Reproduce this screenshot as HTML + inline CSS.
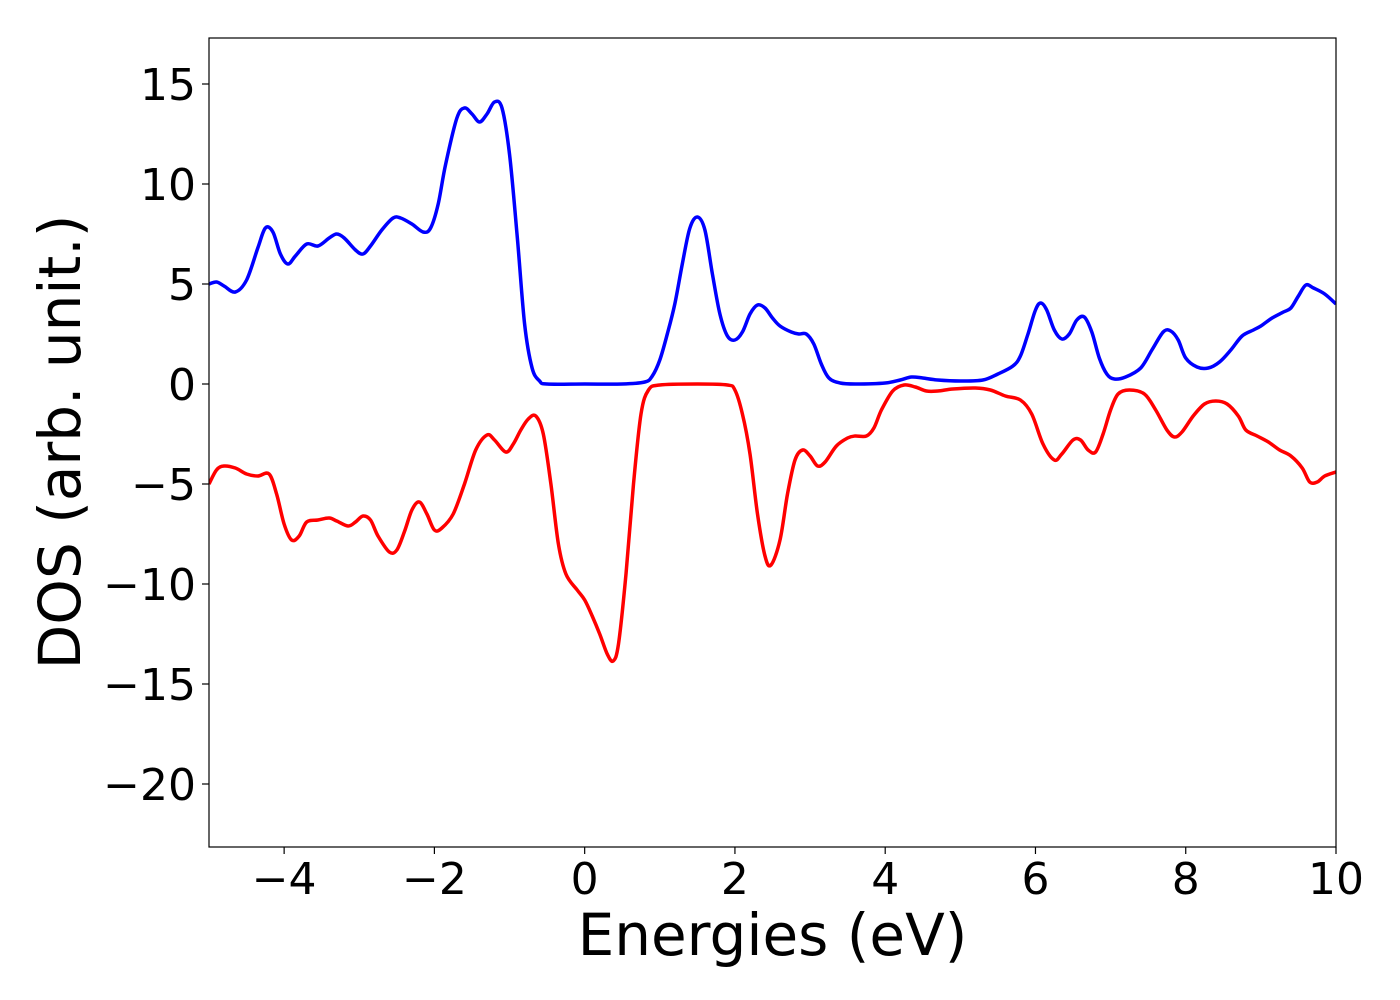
<!DOCTYPE html>
<html><head><meta charset="utf-8"><style>
html,body{margin:0;padding:0;background:#fff;}
svg{display:block;font-family:"DejaVu Sans","Liberation Sans",sans-serif;}
</style></head><body>
<svg id="chart" width="1400" height="1000"></svg>
<script>
const xTicks=[-4,-2,0,2,4,6,8,10];
const xTickLabels=["\u22124","\u22122","0","2","4","6","8","10"];
const yTicks=[15,10,5,0,-5,-10,-15,-20];
const yTickLabels=["15","10","5","0","\u22125","\u221210","\u221215","\u221220"];
const upE=[-5,-4.9,-4.8,-4.65,-4.5,-4.35,-4.25,-4.15,-4.05,-3.95,-3.85,-3.7,-3.55,-3.4,-3.3,-3.2,-3.05,-2.95,-2.85,-2.7,-2.55,-2.45,-2.3,-2.15,-2.05,-1.95,-1.85,-1.7,-1.6,-1.5,-1.4,-1.3,-1.2,-1.1,-1.0,-0.9,-0.8,-0.7,-0.6,-0.5,0,0.5,0.8,0.9,1.0,1.1,1.2,1.3,1.4,1.5,1.6,1.7,1.8,1.9,2.0,2.1,2.2,2.3,2.4,2.5,2.6,2.75,2.85,2.95,3.05,3.15,3.25,3.4,3.6,4.0,4.2,4.35,4.5,4.7,5.0,5.3,5.5,5.7,5.8,5.9,6.0,6.07,6.15,6.25,6.35,6.45,6.55,6.65,6.75,6.85,6.95,7.05,7.2,7.4,7.55,7.7,7.8,7.9,8.0,8.15,8.3,8.45,8.6,8.75,8.9,9.0,9.15,9.3,9.4,9.5,9.6,9.7,9.85,10];
const upDOS=[5.0,5.1,4.9,4.6,5.2,6.8,7.8,7.6,6.5,6.0,6.4,7.0,6.9,7.3,7.5,7.3,6.7,6.5,6.9,7.7,8.3,8.3,8.0,7.6,7.8,9.0,11.0,13.3,13.8,13.5,13.1,13.5,14.1,13.8,11.5,7.5,3.0,0.8,0.15,0.0,0.0,0.0,0.1,0.4,1.2,2.5,4.0,6.0,7.8,8.35,7.7,5.5,3.5,2.4,2.2,2.6,3.5,3.95,3.8,3.3,2.9,2.6,2.5,2.5,2.0,1.0,0.3,0.05,0.0,0.05,0.2,0.35,0.3,0.2,0.15,0.2,0.5,0.9,1.4,2.5,3.7,4.05,3.7,2.7,2.25,2.5,3.2,3.35,2.6,1.3,0.5,0.25,0.35,0.8,1.7,2.6,2.65,2.2,1.3,0.85,0.8,1.1,1.7,2.4,2.7,2.9,3.3,3.6,3.8,4.4,4.95,4.8,4.5,4.0];
const downE=[-5,-4.9,-4.8,-4.65,-4.5,-4.35,-4.2,-4.1,-4.0,-3.9,-3.8,-3.7,-3.55,-3.4,-3.3,-3.15,-3.05,-2.95,-2.85,-2.75,-2.6,-2.5,-2.4,-2.3,-2.2,-2.1,-2.0,-1.9,-1.75,-1.6,-1.45,-1.3,-1.2,-1.05,-0.95,-0.85,-0.75,-0.65,-0.55,-0.45,-0.35,-0.25,-0.1,0.0,0.1,0.2,0.3,0.38,0.45,0.55,0.65,0.75,0.85,1.0,1.5,1.9,2.0,2.1,2.2,2.3,2.4,2.48,2.6,2.7,2.8,2.9,3.0,3.1,3.2,3.35,3.5,3.6,3.75,3.85,3.95,4.1,4.25,4.4,4.55,4.7,4.9,5.2,5.4,5.6,5.8,5.95,6.1,6.25,6.35,6.5,6.6,6.7,6.8,6.9,7.0,7.1,7.25,7.45,7.6,7.75,7.85,7.95,8.1,8.25,8.4,8.55,8.7,8.8,8.95,9.1,9.25,9.4,9.55,9.65,9.75,9.85,10];
const downDOS=[-5.0,-4.3,-4.1,-4.2,-4.5,-4.6,-4.5,-5.5,-7.0,-7.8,-7.6,-6.9,-6.8,-6.7,-6.85,-7.1,-6.9,-6.6,-6.8,-7.6,-8.4,-8.3,-7.4,-6.3,-5.9,-6.5,-7.3,-7.2,-6.5,-5.0,-3.3,-2.55,-2.8,-3.4,-3.0,-2.3,-1.75,-1.6,-2.5,-5.0,-8.0,-9.5,-10.3,-10.8,-11.6,-12.5,-13.5,-13.85,-13.0,-9.5,-5.0,-1.5,-0.3,-0.05,0.0,-0.05,-0.3,-1.5,-3.5,-6.5,-8.6,-9.05,-7.8,-5.5,-3.8,-3.3,-3.6,-4.1,-3.9,-3.1,-2.7,-2.6,-2.6,-2.2,-1.3,-0.35,-0.05,-0.15,-0.35,-0.35,-0.25,-0.2,-0.3,-0.6,-0.8,-1.5,-3.0,-3.8,-3.5,-2.8,-2.8,-3.3,-3.4,-2.5,-1.3,-0.5,-0.3,-0.5,-1.3,-2.3,-2.65,-2.4,-1.6,-1.0,-0.85,-1.0,-1.6,-2.3,-2.6,-2.9,-3.3,-3.6,-4.2,-4.9,-4.9,-4.6,-4.4];

const L=209,R=1336,T=38,B=847;
const xMin=-5,xMax=10,yMin=-23.15,yMax=17.3;
const sx=v=>L+(v-xMin)/(xMax-xMin)*(R-L);
const sy=v=>B-(v-yMin)/(yMax-yMin)*(B-T);
const svg=document.getElementById('chart');
const NS='http://www.w3.org/2000/svg';
function mk(tag,attrs,parent){const e=document.createElementNS(NS,tag);for(const k in attrs)e.setAttribute(k,attrs[k]);(parent||svg).appendChild(e);return e;}
function smooth(xs,ys){
  const p=xs.map((x,i)=>[sx(x),sy(ys[i])]);
  let d='M'+p[0][0].toFixed(1)+','+p[0][1].toFixed(1);
  for(let i=0;i<p.length-1;i++){
    const p0=p[i-1]||p[i],p1=p[i],p2=p[i+1],p3=p[i+2]||p2;
    const c1=[p1[0]+(p2[0]-p0[0])/6,p1[1]+(p2[1]-p0[1])/6];
    const c2=[p2[0]-(p3[0]-p1[0])/6,p2[1]-(p3[1]-p1[1])/6];
    d+='C'+c1[0].toFixed(1)+','+c1[1].toFixed(1)+' '+c2[0].toFixed(1)+','+c2[1].toFixed(1)+' '+p2[0].toFixed(1)+','+p2[1].toFixed(1);
  }
  return d;
}
mk('clipPath',{id:'clip'}).appendChild(Object.assign(document.createElementNS(NS,'rect'),{}));
const cr=svg.querySelector('#clip rect');cr.setAttribute('x',L);cr.setAttribute('y',T);cr.setAttribute('width',R-L);cr.setAttribute('height',B-T);

const up=mk('path',{d:smooth(upE,upDOS),fill:'none',stroke:'#0000ff','stroke-width':3.5,'clip-path':'url(#clip)','stroke-linejoin':'round'});


const dn=mk('path',{d:smooth(downE,downDOS),fill:'none',stroke:'#ff0000','stroke-width':3.5,'clip-path':'url(#clip)','stroke-linejoin':'round'});



const frame=mk('rect',{x:L,y:T,width:R-L,height:B-T,fill:'none',stroke:'#000','stroke-width':1.2});



xTicks.forEach((v,i)=>{
  const x=sx(v);
  const t=mk('line',{x1:x,x2:x,y1:B,y2:B+7,stroke:'#000','stroke-width':1.2});
  
  
  const tx=mk('text',{x:x,y:B+47,'font-size':44,'text-anchor':'middle',fill:'#000'});
  tx.textContent=xTickLabels[i];
  
  
});
yTicks.forEach((v,i)=>{
  const y=sy(v);
  const t=mk('line',{x1:L-7,x2:L,y1:y,y2:y,stroke:'#000','stroke-width':1.2});
  
  
  const tx=mk('text',{x:L-13,y:y+16,'font-size':44,'text-anchor':'end',fill:'#000'});
  tx.textContent=yTickLabels[i];
  
  
});
const xl=mk('text',{x:(L+R)/2,y:955,'font-size':58,'text-anchor':'middle',fill:'#000'});
xl.textContent='Energies (eV)';


const yl=mk('text',{x:0,y:0,'font-size':58,'text-anchor':'middle',fill:'#000',transform:'translate(80,442) rotate(-90)'});
yl.textContent='DOS (arb. unit.)';


</script>
</body></html>
